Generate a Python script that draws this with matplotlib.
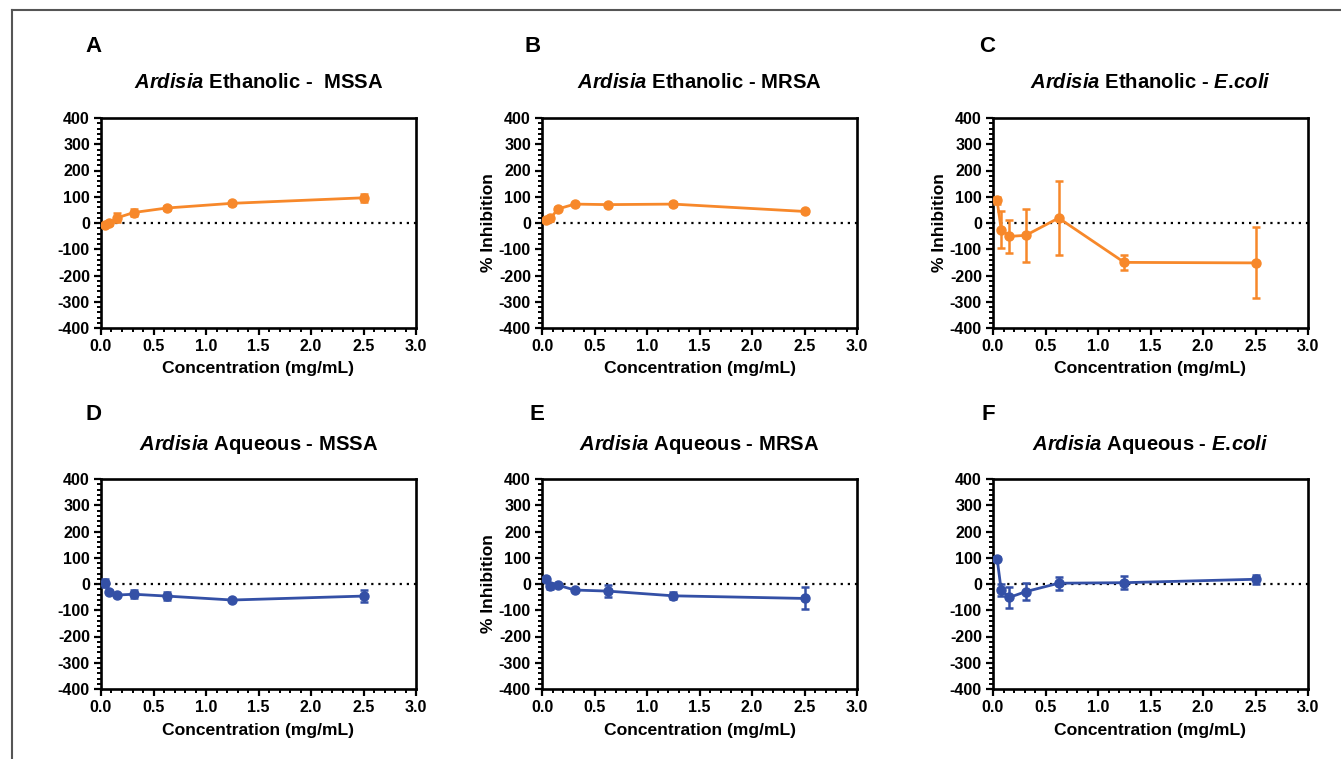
import matplotlib
matplotlib.use("Agg")
import matplotlib.pyplot as plt
from matplotlib.lines import Line2D
from matplotlib.ticker import MultipleLocator

plt.rcParams["font.family"] = ["Liberation Sans", "DejaVu Sans"]
plt.rcParams["font.weight"] = "bold"
plt.rcParams["axes.unicode_minus"] = False
plt.rcParams["mathtext.fontset"] = "custom"
plt.rcParams["mathtext.it"] = "Liberation Sans:italic:bold"
plt.rcParams["mathtext.rm"] = "Liberation Sans:bold"

# concentrations (mg/mL)
conc = [0.039, 0.078, 0.156, 0.3125, 0.625, 1.25, 2.5]

eth_mssa = [-8, 0, 20, 40, 57, 75, 96]
eth_mssa_err = [5, 6, 18, 12, 6, 5, 16]
eth_mrsa = [12, 18, 54, 72, 70, 72, 44]
eth_mrsa_err = [4, 10, 6, 5, 4, 9, 5]
eth_ecoli = [86, -25, -51, -47, 19, -150, -152]
eth_ecoli_err = [14, 72, 63, 102, 141, 28, 135]

aq_mssa = [3, -29, -42, -39, -46, -61, -46]
aq_mssa_err = [15, 6, 5, 15, 14, 5, 24]
aq_mrsa = [19, -8, -5, -23, -27, -45, -55]
aq_mrsa_err = [5, 12, 5, 5, 23, 13, 42]
aq_ecoli = [97, -23, -51, -29, 3, 5, 18]
aq_ecoli_err = [4, 22, 40, 32, 25, 25, 17]

letters = ["A", "B", "C", "D", "E", "F"]
titles = [
    r"$\mathit{Ardisia}$ Ethanolic -  MSSA",
    r"$\mathit{Ardisia}$ Ethanolic - MRSA",
    r"$\mathit{Ardisia}$ Ethanolic - $\mathit{E.\!coli}$",
    r"$\mathit{Ardisia}$ Aqueous - MSSA",
    r"$\mathit{Ardisia}$ Aqueous - MRSA",
    r"$\mathit{Ardisia}$ Aqueous - $\mathit{E.\!coli}$",
]
series = [eth_mssa, eth_mrsa, eth_ecoli, aq_mssa, aq_mrsa, aq_ecoli]
errors = [eth_mssa_err, eth_mrsa_err, eth_ecoli_err, aq_mssa_err, aq_mrsa_err, aq_ecoli_err]
show_ylabel = [False, True, True, False, True, False]

orange = "#F7882A"
blue = "#3450A6"

W, H = 1341, 759
fig = plt.figure(figsize=(W / 100, H / 100), dpi=100)

# outer frame (only left and top edges visible)
fig.add_artist(Line2D([12 / W, 12 / W], [0, 1 - 10 / H], transform=fig.transFigure, color="#555555", lw=1.5))
fig.add_artist(Line2D([12 / W, 1], [1 - 10 / H, 1 - 10 / H], transform=fig.transFigure, color="#555555", lw=1.5))

lefts = [101, 542, 993]
tops = [118, 479]
ax_w, ax_h = 315, 210
letter_pos = [(94, 46), (533, 46), (987, 46), (93, 415), (537, 415), (988, 415)]
title_y = [83, 445]
xlabel_y = [368, 730]

for i in range(6):
    r, c = divmod(i, 3)
    l, t = lefts[c], tops[r]
    ax = fig.add_axes([l / W, 1 - (t + ax_h) / H, ax_w / W, ax_h / H])
    color = orange if r == 0 else blue
    ax.axhline(0, color="black", ls=(0, (1, 2.2)), lw=1.6, zorder=1)
    ax.errorbar(conc, series[i], yerr=errors[i], color=color, lw=2, marker="o", ms=6.5,
                capsize=3, capthick=1.8, elinewidth=1.8, zorder=3)
    ax.set_xlim(0, 3)
    ax.set_ylim(-400, 400)
    ax.xaxis.set_major_locator(MultipleLocator(0.5))
    ax.xaxis.set_minor_locator(MultipleLocator(0.1))
    ax.yaxis.set_major_locator(MultipleLocator(100))
    ax.yaxis.set_minor_locator(MultipleLocator(20))
    ax.set_xticklabels([f"{v:.1f}" for v in ax.get_xticks()])
    ax.tick_params(which="major", direction="out", length=5, width=1.6, labelsize=11.5, pad=3)
    ax.tick_params(which="minor", direction="out", length=3, width=1.4)
    for sp in ax.spines.values():
        sp.set_linewidth(1.9)
    if show_ylabel[i]:
        ax.set_ylabel("% Inhibition", fontsize=12.5, fontweight="bold", labelpad=2)
    cx = (l + ax_w / 2) / W
    fig.text(cx, 1 - title_y[r] / H, titles[i], ha="center", va="center", fontsize=14.6, fontweight="bold")
    fig.text(cx, 1 - xlabel_y[r] / H, "Concentration (mg/mL)", ha="center", va="center", fontsize=12.6, fontweight="bold")
    lx, ly = letter_pos[i]
    fig.text(lx / W, 1 - ly / H, letters[i], ha="center", va="center", fontsize=16, fontweight="bold")

fig.savefig("out.png", dpi=100)
